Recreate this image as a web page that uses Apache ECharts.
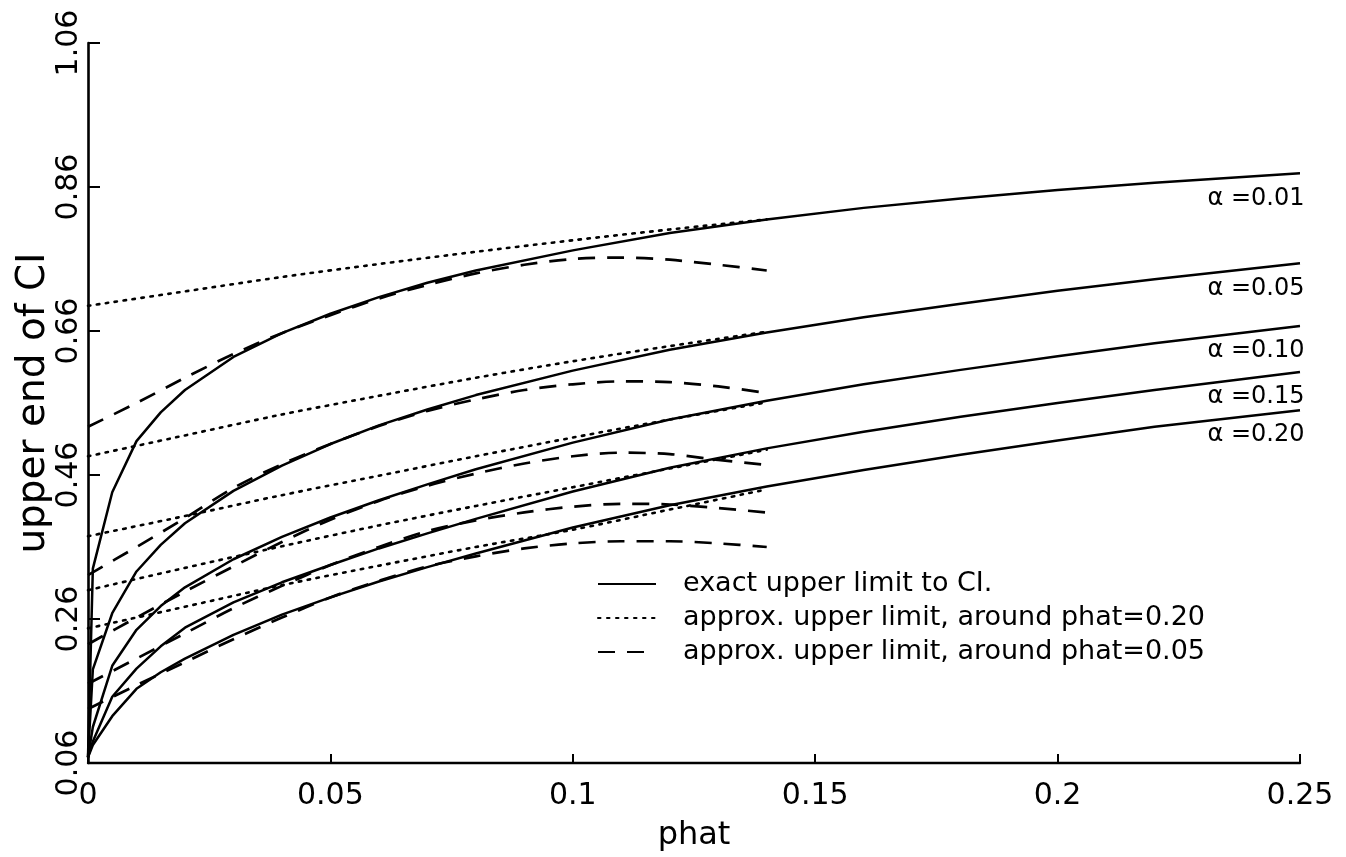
<!DOCTYPE html>
<html>
<head>
<meta charset="utf-8">
<script src="https://cdn.jsdelivr.net/npm/echarts@6/dist/echarts.min.js"></script>
<style>
html,body{margin:0;padding:0;background:#fff;}
#chart{width:1346px;height:857px;}
</style>
</head>
<body>
<div id="chart"></div>
<script>
// ---- data ----
const alphaLabels = ['α =0.01', 'α =0.05', 'α =0.10', 'α =0.15', 'α =0.20'];
const yTickValues = [0.06, 0.26, 0.46, 0.66, 0.86, 1.06];

// exact upper limit to CI
const phatExact = [0, 0.001, 0.005, 0.01, 0.015, 0.02, 0.03, 0.04, 0.05, 0.06, 0.07, 0.08, 0.10, 0.12, 0.14, 0.16, 0.18, 0.20, 0.22, 0.25];
const exact001 = [0.068, 0.33, 0.436, 0.507, 0.547, 0.578, 0.624, 0.657, 0.684, 0.707, 0.727, 0.744, 0.772, 0.796, 0.815, 0.831, 0.844, 0.856, 0.866, 0.879];
const exact005 = [0.068, 0.19, 0.268, 0.326, 0.363, 0.393, 0.438, 0.473, 0.503, 0.529, 0.551, 0.571, 0.605, 0.634, 0.658, 0.679, 0.698, 0.716, 0.732, 0.754];
const exact010 = [0.068, 0.11, 0.195, 0.245, 0.278, 0.304, 0.343, 0.374, 0.401, 0.425, 0.447, 0.468, 0.505, 0.537, 0.563, 0.586, 0.606, 0.625, 0.643, 0.667];
const exact015 = [0.068, 0.09, 0.152, 0.191, 0.222, 0.248, 0.283, 0.311, 0.335, 0.358, 0.379, 0.399, 0.437, 0.470, 0.497, 0.520, 0.541, 0.560, 0.578, 0.603];
const exact020 = [0.068, 0.085, 0.125, 0.163, 0.186, 0.205, 0.238, 0.266, 0.290, 0.312, 0.332, 0.351, 0.387, 0.418, 0.444, 0.467, 0.488, 0.508, 0.527, 0.550];

// approx. upper limit, around phat=0.20 (dotted)
const phatDotted = [0, 0.02, 0.04, 0.06, 0.08, 0.10, 0.12, 0.14];
const dotted001 = [0.695, 0.715, 0.735, 0.753, 0.770, 0.786, 0.801, 0.815];
const dotted005 = [0.486, 0.515, 0.544, 0.570, 0.595, 0.618, 0.639, 0.659];
const dotted010 = [0.375, 0.403, 0.432, 0.459, 0.486, 0.512, 0.537, 0.561];
const dotted015 = [0.300, 0.331, 0.361, 0.390, 0.417, 0.443, 0.469, 0.495];
const dotted020 = [0.247, 0.277, 0.307, 0.334, 0.360, 0.384, 0.412, 0.440];

// approx. upper limit, around phat=0.05 (dashed)
const phatDashed = [0, 0.01, 0.02, 0.03, 0.04, 0.05, 0.06, 0.07, 0.08, 0.09, 0.10, 0.11, 0.12, 0.13, 0.14];
const dashed001 = [0.527, 0.560, 0.595, 0.628, 0.657, 0.682, 0.705, 0.724, 0.740, 0.752, 0.760, 0.762, 0.759, 0.752, 0.744];
const dashed005 = [0.321, 0.360, 0.400, 0.442, 0.475, 0.503, 0.528, 0.549, 0.565, 0.578, 0.586, 0.590, 0.589, 0.583, 0.574];
const dashed010 = [0.225, 0.262, 0.298, 0.333, 0.367, 0.398, 0.424, 0.445, 0.462, 0.476, 0.486, 0.491, 0.489, 0.481, 0.474];
const dashed015 = [0.170, 0.205, 0.240, 0.275, 0.306, 0.335, 0.360, 0.382, 0.397, 0.408, 0.416, 0.420, 0.419, 0.414, 0.408];
const dashed020 = [0.135, 0.168, 0.200, 0.232, 0.262, 0.290, 0.313, 0.333, 0.347, 0.358, 0.365, 0.368, 0.368, 0.365, 0.360];

const legendNames = ['exact upper limit to CI.', 'approx. upper limit, around phat=0.20', 'approx. upper limit, around phat=0.05'];

// ---- build ----
const FONT = 'DejaVu Sans';
const exactSets = [exact001, exact005, exact010, exact015, exact020];
const dottedSets = [dotted001, dotted005, dotted010, dotted015, dotted020];
const dashedSets = [dashed001, dashed005, dashed010, dashed015, dashed020];

function pairs(xs, ys) { return xs.map((x, i) => [x, ys[i]]); }

const series = [];
exactSets.forEach((ys, k) => {
  const last = ys.length - 1;
  series.push({
    type: 'line', name: legendNames[0], data: pairs(phatExact, ys),
    symbol: 'none', showSymbol: false, smooth: false, silent: true, z: 3,
    lineStyle: { color: '#000', width: 2.5, type: 'solid', join: 'round' },
    itemStyle: { color: '#000' },
    markPoint: {
      silent: true, symbol: 'circle', symbolSize: 1, itemStyle: { color: 'rgba(0,0,0,0)' },
      label: { show: true, position: 'inside', offset: [-44, 25], color: '#000', fontFamily: FONT, fontSize: 24, formatter: alphaLabels[k] },
      data: [{ coord: [phatExact[last], ys[last]] }]
    }
  });
});
dottedSets.forEach((ys) => {
  series.push({
    type: 'line', name: legendNames[1], data: pairs(phatDotted, ys),
    symbol: 'none', showSymbol: false, smooth: 0.3, silent: true, z: 2,
    lineStyle: { color: '#000', width: 2.6, type: [2.5, 6.5], cap: 'round' },
    itemStyle: { color: '#000' }
  });
});
dashedSets.forEach((ys) => {
  series.push({
    type: 'line', name: legendNames[2], data: pairs(phatDashed, ys),
    symbol: 'none', showSymbol: false, smooth: 0.3, silent: true, z: 2,
    lineStyle: { color: '#000', width: 2.7, type: [17, 12] },
    itemStyle: { color: '#000' }
  });
});

const chart = echarts.init(document.getElementById('chart'), null, { renderer: 'canvas' });
chart.setOption({
  animation: false,
  backgroundColor: '#fff',
  grid: { left: 88, right: 46, top: 43, bottom: 94, containLabel: false },
  legend: {
    data: legendNames,
    orient: 'vertical', left: 592, top: 564,
    itemWidth: 58, itemHeight: 14, itemGap: 4,
    itemStyle: { opacity: 0, borderWidth: 0 },
    textStyle: { color: '#000', fontFamily: FONT, fontSize: 27, lineHeight: 30, padding: [0, 0, 0, 22] },
    selectedMode: false
  },
  xAxis: {
    type: 'value', min: 0, max: 0.25, interval: 0.05,
    name: 'phat', nameLocation: 'middle', nameGap: 57, nameMoveOverlap: false,
    nameTextStyle: { color: '#000', fontFamily: FONT, fontSize: 32 },
    axisLine: { show: true, onZero: false, lineStyle: { color: '#000', width: 2.4 } },
    axisTick: { show: true, inside: true, length: 9, lineStyle: { color: '#000', width: 2 } },
    axisLabel: { color: '#000', fontFamily: FONT, fontSize: 30, margin: 18 },
    splitLine: { show: false }
  },
  yAxis: {
    type: 'value', min: 0.06, max: 1.06,
    name: 'upper end of CI', nameLocation: 'middle', nameGap: 35, nameRotate: 90, nameMoveOverlap: false,
    nameTextStyle: { color: '#000', fontFamily: FONT, fontSize: 39 },
    axisLine: { show: true, onZero: false, lineStyle: { color: '#000', width: 2.6 } },
    axisTick: { show: true, inside: true, length: 12, customValues: yTickValues, lineStyle: { color: '#000', width: 2 } },
    axisLabel: { color: '#000', fontFamily: FONT, fontSize: 30, rotate: 90, margin: 4, customValues: yTickValues,
      formatter: v => v.toFixed(2) },
    splitLine: { show: false }
  },
  series: series
});
</script>
</body>
</html>
